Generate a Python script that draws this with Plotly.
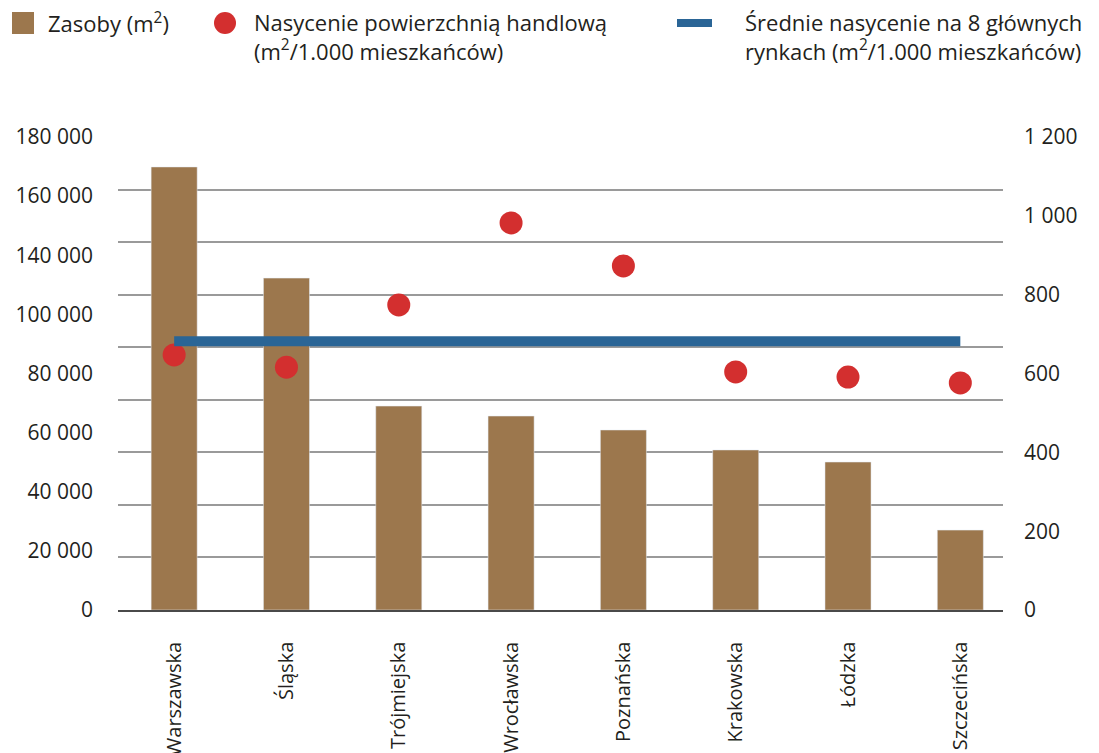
import plotly.graph_objects as go

# ---- data ----
categories = ["Warszawska", "Śląska", "Trójmiejska", "Wrocławska",
              "Poznańska", "Krakowska", "Łódzka", "Szczecińska"]
zasoby = [168600, 126300, 77600, 73800, 68500, 60900, 56300, 30400]
nasycenie = [647, 616, 774, 982, 873, 604, 591, 576]
srednie = 682
left_tick_labels = ["0", "20 000", "40 000", "60 000", "80 000",
                    "100 000", "140 000", "160 000", "180 000"]
right_tick_vals = [0, 200, 400, 600, 800, 1000, 1200]
right_tick_text = ["0", "200", "400", "600", "800", "1 000", "1 200"]

legend_names = ["Zasoby (m<sup>2</sup>)",
                "Nasycenie powierzchnią handlową<br>(m<sup>2</sup>/1.000 mieszkańców)",
                "Średnie nasycenie na 8 głównych<br>rynkach (m<sup>2</sup>/1.000 mieszkańców)"]

BROWN = "#9C774D"
RED = "#D32F2F"
BLUE = "#2A6596"
TXT = "#231F20"
FONT = "Open Sans"

W, H = 1099, 753
L, R, T, B = 118, 96, 137, 143
pw, ph = W - L - R, H - T - B


def px_x(x):
    return (x - L) / pw


def px_y(y):
    return (H - B - y) / ph


fig = go.Figure()
fig.add_trace(go.Bar(x=categories, y=zasoby, marker_color=BROWN, width=0.41,
                     name="Zasoby", yaxis="y", showlegend=False))
fig.add_trace(go.Scatter(x=categories, y=nasycenie, mode="markers",
                         marker=dict(color=RED, size=23), yaxis="y2",
                         showlegend=False))
fig.add_trace(go.Scatter(x=categories, y=[srednie] * len(categories), mode="lines",
                         line=dict(color=BLUE, width=10), yaxis="y2",
                         showlegend=False))
# invisible trace to anchor the left label axis
fig.add_trace(go.Scatter(x=[categories[0]], y=[0], mode="markers",
                         marker=dict(opacity=0), yaxis="y3", showlegend=False,
                         hoverinfo="skip"))

fig.update_layout(
    width=W, height=H,
    margin=dict(l=L, r=R, t=T, b=B, autoexpand=False),
    paper_bgcolor="white", plot_bgcolor="white",
    font=dict(family=FONT, size=21, color=TXT),
    showlegend=False,
    xaxis=dict(type="category", range=[-0.5, 7.38], showgrid=False,
               tickangle=-90, ticks="", showline=True, linecolor="#4a4a4a",
               linewidth=1.5, tickfont=dict(size=20), ticklabelstandoff=22,
               automargin=False, layer="above traces"),
    yaxis=dict(range=[0, 180000], dtick=20000, showgrid=True,
               gridcolor="#9a9a9a", gridwidth=1.5, showticklabels=False,
               zeroline=False, automargin=False),
    yaxis2=dict(range=[0, 1200], overlaying="y", side="right",
                tickvals=right_tick_vals, ticktext=right_tick_text,
                tickfont=dict(size=21),
                showgrid=False, zeroline=False, ticklabelstandoff=20,
                automargin=False),
    yaxis3=dict(range=[0, 8], overlaying="y", side="left",
                tickvals=list(range(len(left_tick_labels))),
                ticktext=left_tick_labels, tickfont=dict(size=21),
                showgrid=False, zeroline=False,
                ticklabelstandoff=24, automargin=False),
)

# ---- manual legend ----
shapes = [
    dict(type="rect", xref="paper", yref="paper",
         x0=px_x(12), x1=px_x(34), y0=px_y(34), y1=px_y(12),
         fillcolor=BROWN, line=dict(width=0)),
    dict(type="circle", xref="paper", yref="paper",
         x0=px_x(214), x1=px_x(236), y0=px_y(34), y1=px_y(12),
         fillcolor=RED, line=dict(width=0)),
    dict(type="rect", xref="paper", yref="paper",
         x0=px_x(677), x1=px_x(712), y0=px_y(27), y1=px_y(19),
         fillcolor=BLUE, line=dict(width=0)),
]
fig.update_layout(shapes=shapes)

for name, x in zip(legend_names, [46, 252, 743]):
    fig.add_annotation(text=name, xref="paper", yref="paper",
                       x=px_x(x), y=px_y(5), xanchor="left", yanchor="top",
                       align="left", showarrow=False,
                       font=dict(size=22, color=TXT, family=FONT))

fig.write_html("out.html")
